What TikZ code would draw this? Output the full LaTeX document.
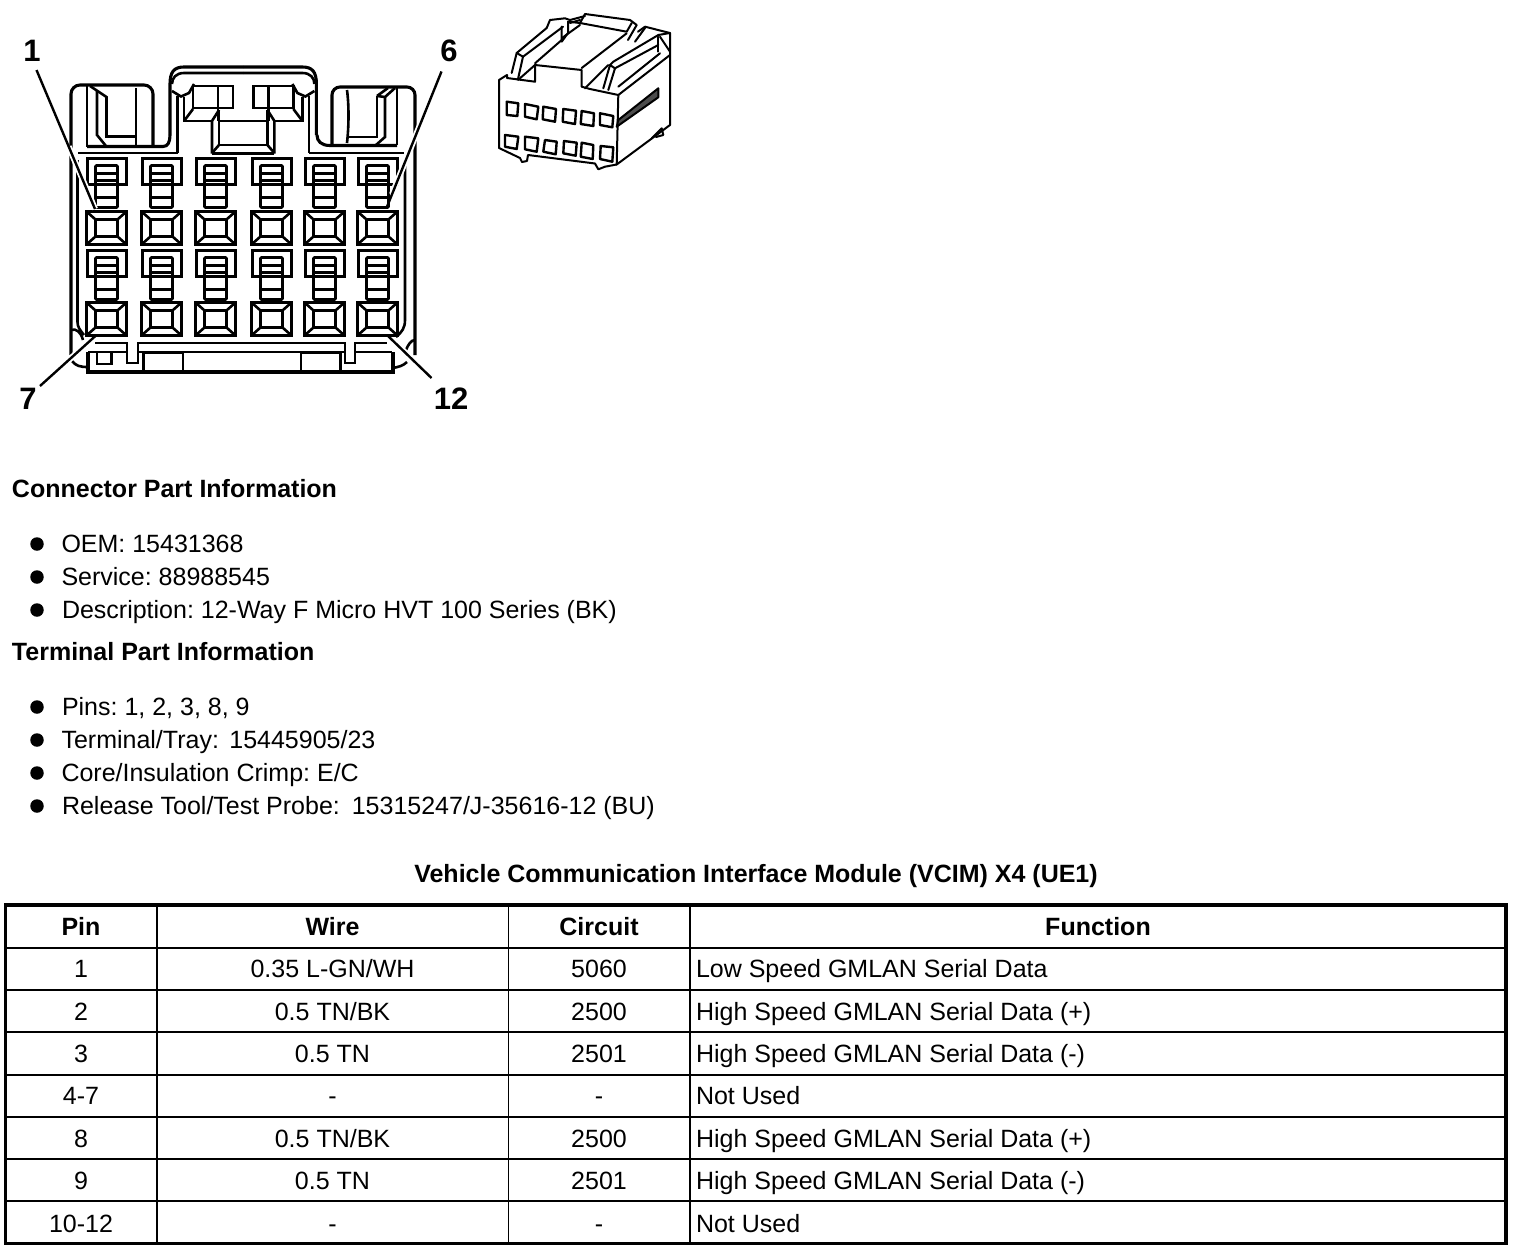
\documentclass[tikz,border=0pt]{standalone}
\usepackage{fontspec}
\usetikzlibrary{calc}
\setmainfont{Liberation Sans}
\tikzset{
  every node/.style={inner sep=0pt,outer sep=0pt},
  ln/.style={line width=2.6pt,line join=miter},
  iso/.style={line width=2pt,line join=round,line cap=round},
  thk/.style={line width=3.1pt},
  cavl/.style={line width=3pt},
  txt/.style={anchor=base west,font=\fontsize{25}{30}\selectfont\frenchspacing},
  ctr/.style={anchor=base,font=\fontsize{25}{30}\selectfont\frenchspacing},
  hd/.style={anchor=base,font=\fontsize{25}{30}\selectfont\bfseries\frenchspacing},
  hdl/.style={anchor=base west,font=\fontsize{25}{30}\selectfont\bfseries\frenchspacing},
  num/.style={anchor=base,font=\fontsize{31}{33}\selectfont\bfseries},
  bul/.style={circle,fill=black,minimum size=13.5pt},
  grid/.style={line width=2pt},
  frame/.style={line width=3.8pt},
  halo/.style={white,line width=6pt},
  lead/.style={black,line width=2.4pt}
}
\newcommand{\cav}[2]{%
  \begin{scope}[shift={(#1,#2)}]
    \draw[cavl] (0,0) rectangle (40,33);
    \draw[ln] (9,8) rectangle (31,25);
    \draw[ln] (0,0)--(9,8) (40,0)--(31,8) (0,33)--(9,25) (40,33)--(31,25);
  \end{scope}}
\newcommand{\tee}[2]{%
  \begin{scope}[shift={(#1,#2)}]
    \draw[cavl] (1,0) rectangle (40,26);
    \draw[ln] (9,40) -- (9,9) [rounded corners=1pt]-- (9,7) -- (31,7) -- (31,49) -- (9,49) -- (9,38);
    \draw[ln] (9,15)--(31,15) (9,22)--(31,22) (9,39)--(31,39);
  \end{scope}}
\newcommand{\halfhead}{%
  % central tab, left half (mirrored for the right half)
  \draw[thk] (170,135) -- (170,84) .. controls (170,72) and (174,67) .. (184,67) -- (243.2,67);
  \draw[ln] (172,84) .. controls (172,78) and (176,73) .. (184,73) -- (243.2,73);
  \draw[ln] (172,91) -- (181,96.5) -- (189,93) -- (194,84);
  \draw[ln] (177.5,96) -- (177.5,153);
  \draw[ln] (184,97) -- (184,121) -- (213,121);
  \draw[ln] (193,86) -- (233,86) -- (233,108) -- (193,108) -- cycle;
  \draw[ln] (218,86) -- (218,121);
  \draw[ln] (184,121) -- (193,109);
  \draw[ln] (212,153.5) -- (212,121) -- (219,110);
  \draw[ln] (219,110) -- (219,145) -- (243.2,145);
  \draw[ln] (219,121) -- (243.2,121);
  \draw[ln] (219,145) -- (212,153);
  \draw[thk] (212,153.5) -- (243.2,153.5);
}
\begin{document}
\begin{tikzpicture}[x=1pt,y=-1pt]
\useasboundingbox (0,0) rectangle (1520,1250);

% ---- housing ----
\draw[thk] (71,355) -- (71,95) [rounded corners=9pt] -- (71,85) -- (153,85) -- (153,146);
\draw[thk] (87,146.5) -- (163,146.5) .. controls (168,146.5) and (170,142) .. (170,135);
\draw[ln] (87,85) -- (87,146.5);
\draw[ln] (97,90) -- (97,135) -- (106,146);
\draw[ln] (90,86) -- (106.5,97) -- (106.5,136.5) -- (136,136.5);
\draw[ln] (136,88) -- (136,146);
\draw[ln] (78,153) -- (177.5,153);
\draw[ln] (77.5,160) -- (77.5,322) .. controls (77.5,327) and (80,330) .. (84,335);
\halfhead
\begin{scope}[xshift=486.4pt,xscale=-1]
\halfhead
\end{scope}
\draw[thk] (317,135) .. controls (317,141) and (321,145.5) .. (330,145.5) -- (397,145.5);
\draw[thk] (332,145) -- (332,96) [rounded corners=8pt] -- (332,87) -- (415,87) -- (415,355);
\draw[ln] (397,87) -- (397,145);
\draw[ln] (347,90) .. controls (349,105) and (349,125) .. (347,143);
\draw[ln] (377,96) -- (377,137) -- (348,137);
\draw[ln] (385,97) -- (385,137) -- (376,145);
\draw[ln] (377,96) -- (385,97) -- (395,88);
\draw[ln] (377,96) -- (388,88);
\draw[ln] (309,153) -- (404,153);
\draw[ln] (405,160) -- (405,320) .. controls (405,328) and (402,332) .. (396,337);
% bottom
\draw[ln] (95,343) -- (127,343) -- (127,363) -- (138,363) -- (138,343) -- (345,343) -- (345,363) -- (355,363) -- (355,343) -- (387,343);
\draw[ln] (88,352) -- (127,352) (138,352) -- (345,352) (355,352) -- (392,352);
\draw[thk] (88,352) -- (88,372) -- (393,372) -- (393,352);
\draw[ln] (97,352) -- (97,364) -- (111.5,364) -- (111.5,352);
\draw[ln] (143.5,353) rectangle (183,371);
\draw[ln] (301,353) rectangle (340.5,371);
\draw[ln] (72,361) .. controls (76,366) and (80,367) .. (88,367);
\draw[ln] (393,368) .. controls (398,367) and (403,366) .. (407,362);
\draw[ln] (71,330) .. controls (76,328) and (81,332) .. (83,340);
\draw[ln] (415,340) .. controls (411,340) and (408,345) .. (406,350);

% ---- cavities ----
\foreach \x in {86.5,141.5,195.5,251.5,304.5,357.5}{
  \tee{\x}{158.5}
  \cav{\x}{211.5}
  \tee{\x}{250.5}
  \cav{\x}{302.5}
}

% ---- leaders ----
\coordinate (c1) at (95,209);
\coordinate (c6) at (386.5,208);
\coordinate (c7) at (96.5,335);
\coordinate (c12) at (387,335);
\coordinate (t1) at (36.5,70);
\coordinate (t6) at (441.5,71.5);
\coordinate (t7) at (40,386);
\coordinate (t12) at (431.5,378);
\draw[halo] ($(t1)!0.55!(c1)$) -- (c1);
\draw[halo] ($(t6)!0.3!(c6)$) -- ($(t6)!0.9!(c6)$);
\draw[halo] ($(t7)!0.2!(c7)$) -- ($(t7)!0.85!(c7)$);
\draw[halo] ($(t12)!0.2!(c12)$) -- ($(t12)!0.85!(c12)$);
\draw[lead] (t1) -- (c1);
\draw[lead] (t6) -- (c6);
\draw[lead] (t7) -- (c7);
\draw[lead] (t12) -- (c12);
\node[num] (n1) at (32,61) {1};
\node[num] (n6) at (449,61.5) {6};
\node[num] (n7) at (28,409) {7};
\node[num] (n12) at (451,409) {12};

% ---- isometric connector ----
% body outline
\draw[iso] (499,80) -- (499,148) -- (520,158) -- (522,162) -- (527,161) -- (528,155) -- (595,163.5) -- (598.3,169.3) -- (605,166.7) -- (616.7,164.5) -- (670,125) -- (670,33) -- (645,26.7);
\draw[iso] (618.3,95) -- (616.7,164.5);
\draw[iso] (499,80) -- (507,75) -- (507,78) -- (535,81.7) -- (535,65) -- (581.7,70) -- (581.7,86.7) -- (590,89) -- (618.3,95) -- (670,55);
% left rail
\draw[iso] (511.7,73) -- (516.7,53) -- (546.7,28) -- (550,20) -- (565,18.3) -- (570,20) -- (585,16);
\draw[iso] (516.7,53) -- (523,56.7) -- (518,79);
\draw[iso] (523,56.7) -- (563,26.7);
\draw[iso] (518,80) -- (535,65);
\draw[iso] (535,63.3) -- (561.7,40) -- (561.7,26.7);
\draw[iso] (568,21.7) -- (568,33) -- (561.7,41.7);
\draw[iso] (570,23) -- (580,20);
% centre latch and top surface
\draw[iso] (580,23) -- (585,14) -- (630,20) -- (636.7,25) -- (628,40);
\draw[iso] (568,21.7) -- (580,23) -- (626.7,31.7) -- (631.7,23);
\draw[iso] (562,38) -- (580,25);
\draw[iso] (626.7,33.3) -- (581.7,68);
% right rail
\draw[iso] (585,88.3) -- (608.3,65);
\draw[iso] (603.3,88.3) -- (610,65) -- (615,68.3) -- (608.3,90);
\draw[iso] (610,65) -- (613.3,61.7) -- (658.3,35) -- (670,33);
\draw[iso] (615,68.3) -- (658.3,45);
\draw[iso] (618.3,86.7) -- (660,53.3);
\draw[iso] (658.3,36.7) -- (658.3,51.7);
\draw[iso] (660,36.7) -- (670,51.7);
\draw[iso] (638,31.7) -- (645,26.7);
\draw[iso] (635,41.7) -- (645,28);
% slot and notch
\draw[iso,fill=black!70] (618.3,120) -- (658.3,88.3) -- (658.3,97.3) -- (616.7,126.7) -- cycle;
\draw[iso] (651.7,138.3) -- (661.7,128.3) -- (663.3,135) -- (656,137);
% windows
\foreach \a/\b/\c/\d in {
 {506.7,101.7}/{518.3,103.3}/{517.3,116}/{506.7,115},
 {525,104}/{538.3,106.7}/{536.7,119.3}/{525,116.7},
 {543.3,106.7}/{556,109}/{555,121.7}/{542.7,119.3},
 {563.3,109}/{576,110.7}/{575,124}/{562.7,121.7},
 {581.7,111}/{594,113.3}/{593.3,126}/{580.7,124},
 {600,113.3}/{613.3,116}/{612.3,127.3}/{600,125},
 {505,135}/{518.3,136.7}/{516.7,149}/{505,146.7},
 {525,136.7}/{538.3,138.3}/{536.7,151.7}/{525,149.3},
 {545,140}/{556.7,141.7}/{555.7,154.3}/{543.3,151.7},
 {564,141}/{576.7,142.7}/{575.7,155.7}/{563.3,153.3},
 {581.7,142.7}/{593.3,145}/{592.7,159}/{580.7,156.7},
 {600.7,146}/{613.3,147.3}/{612.3,161.7}/{600,159}}{
  \draw[iso,line width=2.4pt,fill=white] (\a) -- (\b) -- (\c) -- (\d) -- cycle;
}

% ---- part information ----
\node[hdl] (h1) at (12,497) {Connector Part Information};
\node[bul] (b1) at (37,544) {};
\node[bul] (b2) at (37,577) {};
\node[bul] (b3) at (37,610) {};
\node[txt] (t-oem) at (61.5,552) {OEM: 15431368};
\node[txt] (t-srv) at (61.5,585) {Service: 88988545};
\node[txt] (t-dsc) at (62,618) {Description: 12-Way F Micro HVT 100 Series (BK)};
\node[hdl] (h2) at (12,660) {Terminal Part Information};
\node[bul] (b4) at (37,707) {};
\node[bul] (b5) at (37,740) {};
\node[bul] (b6) at (37,773) {};
\node[bul] (b7) at (37,806) {};
\node[txt] (t-pin) at (62,715) {Pins: 1, 2, 3, 8, 9};
\node[txt] (t-ter) at (61.5,748) {Terminal/Tray:\kern3.5pt{} 15445905/23};
\node[txt] (t-cor) at (61.5,781) {Core/Insulation Crimp: E/C};
\node[txt] (t-rel) at (62,814) {Release Tool/Test Probe:\kern5pt{} 15315247/J-35616-12 (BU)};

% ---- table ----
\node[hd] (title) at (756,882) {Vehicle Communication Interface Module (VCIM) X4 (UE1)};
\foreach \y in {948,990,1032,1075,1117,1159,1201}{
  \draw[grid] (5.5,\y) -- (1506,\y);
}
\foreach \x in {157,508.5,690}{
  \draw[line width=1.4pt] (\x,905) -- (\x,1243.5);
}
\draw[frame] (5.5,905) rectangle (1506,1243.5);
\node[hd] (hp) at (81,935) {Pin};
\node[hd] (hw) at (332.5,935) {Wire};
\node[hd] (hc) at (599,935) {Circuit};
\node[hd] (hf) at (1098,935) {Function};
\foreach \r/\y/\p/\w/\c/\f in {
 1/977.5/1/0.35 L-GN\slash WH/5060/Low Speed GMLAN Serial Data,
 2/1020/2/0.5 TN\slash BK/2500/High Speed GMLAN Serial Data (+),
 3/1062.5/3/0.5 TN/2501/High Speed GMLAN Serial Data (-),
 4/1104/4-7/-/-/Not Used,
 5/1147/8/0.5 TN\slash BK/2500/High Speed GMLAN Serial Data (+),
 6/1189.5/9/0.5 TN/2501/High Speed GMLAN Serial Data (-),
 7/1232/10-12/-/-/Not Used}{
  \node[ctr] (p\r) at (81,\y) {\p};
  \node[ctr] (w\r) at (332.5,\y) {\w};
  \node[ctr] (c\r) at (599,\y) {\c};
  \node[txt] (f\r) at (696,\y) {\f};
}
\end{tikzpicture}
\end{document}
